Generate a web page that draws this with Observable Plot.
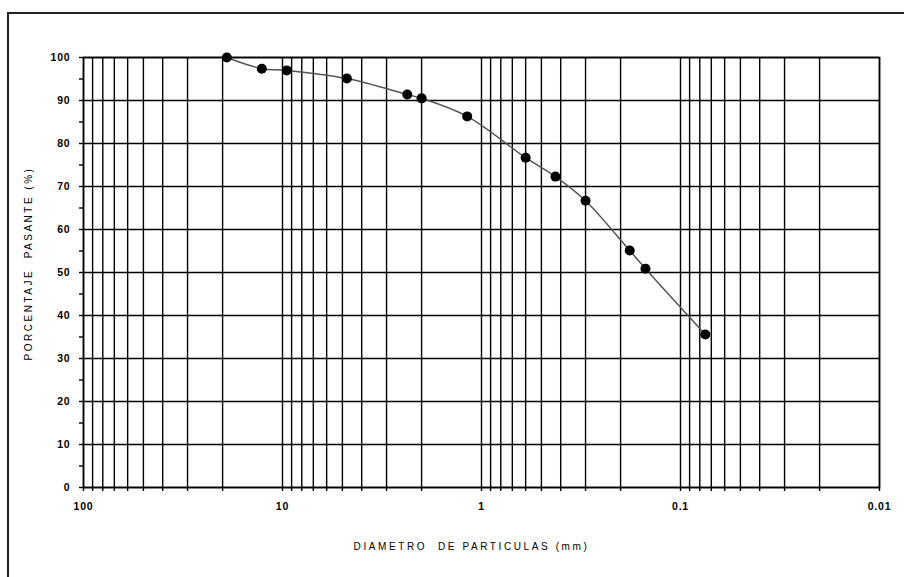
<!DOCTYPE html>
<html>
<head>
<meta charset="utf-8">
<script src="https://cdn.jsdelivr.net/npm/d3@7"></script>
<script src="https://cdn.jsdelivr.net/npm/@observablehq/plot@0.6"></script>
<style>
  html, body { margin: 0; padding: 0; background: #fff; overflow: hidden; }
  #wrap { position: relative; width: 904px; height: 577px; overflow: hidden; }
  #border { position: absolute; left: 7px; top: 12px; width: 1000px; height: 1000px; border: 2px solid #222; box-sizing: border-box; }
  #chart { position: absolute; left: 0; top: 0; }
</style>
</head>
<body>
<div id="wrap"><div id="border"></div><div id="chart"></div></div>
<script>
// Sieve diameters (mm) and percent passing
const diameters = [19.05, 12.7, 9.525, 4.75, 2.36, 2.0, 1.18, 0.6, 0.425, 0.3, 0.18, 0.15, 0.075];
const passing   = [100, 97.4, 97.0, 95.1, 91.4, 90.5, 86.3, 76.7, 72.3, 66.7, 55.1, 50.9, 35.6];
const xDecades = [100, 10, 1, 0.1, 0.01];
const xDecadeLabels = ["100", "10", "1", "0.1", "0.01"];
const yMajor = [0, 10, 20, 30, 40, 50, 60, 70, 80, 90, 100];
const yMinor = [5, 15, 25, 35, 45, 55, 65, 75, 85, 95];
const xTitle = "DIAMETRO  DE PARTICULAS (mm)";
const yTitle = "PORCENTAJE  PASANTE (%)";

const data = diameters.map((d, i) => ({d, p: passing[i]}));
const xGrid = [];
for (const k of [-2, -1, 0, 1]) for (let m = 1; m <= 9; m++) xGrid.push(+(m * Math.pow(10, k)).toPrecision(3));
xGrid.push(100);

const font = "'Liberation Sans', Arial, sans-serif";
const chart = Plot.plot({
  width: 904,
  height: 577,
  marginLeft: 83,
  marginRight: 25,
  marginTop: 57,
  marginBottom: 90,
  style: {fontFamily: font, fontSize: "10.5px", background: "transparent", color: "#000"},
  x: {type: "log", domain: [100, 0.01]},
  y: {domain: [0, 100]},
  marks: [
    Plot.gridX(xGrid, {stroke: "#000", strokeOpacity: 1, strokeWidth: 1.4}),
    Plot.gridY(yMajor, {stroke: "#000", strokeOpacity: 1, strokeWidth: 1.4}),
    Plot.axisX(xGrid, {tickSize: 4, text: null, strokeWidth: 1.4, label: null}),
    Plot.axisX(xDecades, {tickSize: 0, tickPadding: 15, tickFormat: (d) => xDecadeLabels[xDecades.indexOf(d)], fontWeight: "bold", fontSize: 10.5, label: null}),
    Plot.axisY(yMajor.concat(yMinor), {tickSize: 4, text: null, strokeWidth: 1.4, label: null}),
    Plot.axisY(yMajor, {tickSize: 0, tickPadding: 13, fontWeight: "bold", fontSize: 10.5, label: null}),
    Plot.frame({stroke: "#000", strokeWidth: 1.6}),
    Plot.line(data, {x: "d", y: "p", curve: "catmull-rom", stroke: "#555", strokeWidth: 1.5}),
    Plot.dot(data, {x: "d", y: "p", r: 5, fill: "#000", stroke: "none"}),
    Plot.text([xTitle], {frameAnchor: "bottom", dy: 62, dx: -10, text: (d) => d, fontSize: 10, fill: "#000"}),
    Plot.text([yTitle], {frameAnchor: "left", textAnchor: "middle", dx: -55, dy: -9, rotate: -90, text: (d) => d, fontSize: 10, fill: "#000"})
  ]
});
// widen the bitmap-like lettering of the original
d3.select(chart).selectAll("text").each(function() {
  const t = this.textContent;
  if (t === xTitle) this.setAttribute("letter-spacing", "2.6px");
  else if (t === yTitle) this.setAttribute("letter-spacing", "2.5px");
  else this.setAttribute("letter-spacing", "0.8px");
});
document.getElementById("chart").appendChild(chart);
</script>
</body>
</html>
